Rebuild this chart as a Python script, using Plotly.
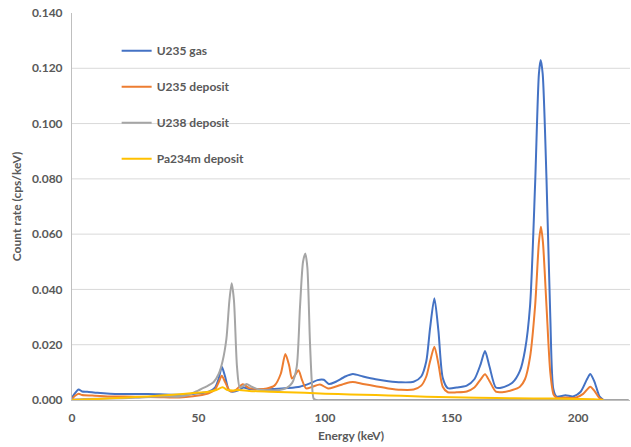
import plotly.graph_objects as go

# Gamma spectra: energy (keV) and count rate (cps/keV) for each source
u235_gas_e = [0, 1.2, 2.6, 4, 6, 10, 15, 20, 30, 40, 46, 50, 54, 56.5, 58, 59.2, 60.5, 62, 63.5,
              66, 67.8, 70, 75, 80, 85, 90, 94, 97, 99.5, 101.5, 104, 108, 111, 115, 120, 125,
              130, 135, 138, 140, 141.5, 143.2, 144.8, 146.5, 148.5, 152, 156, 159, 161.5, 163.2,
              165, 167.5, 170, 174, 177, 179, 181, 183, 184.5, 185.2, 186, 187.5, 189, 190.2,
              191.5, 195, 198, 201, 203.5, 204.8, 206.5, 208.5, 210]
u235_gas = [0.0008, 0.0025, 0.0038, 0.0031, 0.0030, 0.0026, 0.0023, 0.0022, 0.0022, 0.0019,
            0.0021, 0.0024, 0.0030, 0.0045, 0.0078, 0.0120, 0.0085, 0.0035, 0.0030, 0.0036,
            0.0045, 0.0040, 0.0038, 0.0040, 0.0043, 0.0048, 0.0060, 0.0072, 0.0073, 0.0058,
            0.0065, 0.0085, 0.0094, 0.0085, 0.0075, 0.0068, 0.0064, 0.0066, 0.0085, 0.0140,
            0.0260, 0.0368, 0.0250, 0.0080, 0.0043, 0.0045, 0.0052, 0.0075, 0.0130, 0.0177,
            0.0120, 0.0045, 0.0045, 0.0062, 0.0105, 0.0180, 0.0340, 0.0780, 0.1180, 0.1230,
            0.1180, 0.0800, 0.0300, 0.0040, 0.0012, 0.0017, 0.0013, 0.0030, 0.0075, 0.0094,
            0.0065, 0.0012, 0.0]

u235_dep_e = [0, 1.2, 2.6, 4, 8, 15, 25, 35, 40, 45, 50, 54, 56.5, 58, 59.2, 60.5, 62.5, 64.5,
              67.5, 70, 73, 77, 80, 82.5, 84.3, 85.8, 86.9, 88, 89.5, 90.8, 92.5, 95, 98, 101.2,
              104, 108, 111, 115, 120, 125, 130, 135, 138, 140, 141.5, 143.2, 144.8, 146.5,
              148.5, 152, 156, 159, 161.5, 163.2, 165, 167.5, 170, 174, 177, 179, 181, 183,
              184.5, 185.3, 186.1, 187.5, 189, 190.3, 191.5, 195, 199, 202, 204.8, 206.5,
              208.5, 210]
u235_dep = [0.0003, 0.0015, 0.0023, 0.0018, 0.0016, 0.0013, 0.0012, 0.0010, 0.0009, 0.0011,
            0.0016, 0.0024, 0.0038, 0.0065, 0.0088, 0.0065, 0.0032, 0.0035, 0.0057, 0.0043,
            0.0040, 0.0042, 0.0052, 0.0095, 0.0166, 0.0125, 0.0078, 0.0088, 0.0108, 0.0075,
            0.0042, 0.0048, 0.0056, 0.0042, 0.0048, 0.0060, 0.0065, 0.0058, 0.0050, 0.0042,
            0.0037, 0.0038, 0.0052, 0.0085, 0.0140, 0.0193, 0.0130, 0.0048, 0.0028, 0.0028,
            0.0031, 0.0045, 0.0075, 0.0093, 0.0068, 0.0030, 0.0028, 0.0036, 0.0048, 0.0075,
            0.0155, 0.0340, 0.0570, 0.0627, 0.0570, 0.0340, 0.0100, 0.0020, 0.0008, 0.0009,
            0.0008, 0.0022, 0.0048, 0.0032, 0.0006, 0.0]

u238_dep_e = [0, 5, 15, 25, 35, 42, 46, 50, 53, 56, 58, 59.5, 61, 62.2, 63.1, 64, 65.2, 66.3,
              67.5, 69, 71, 74, 78, 82, 85, 87, 88.8, 90.1, 91.3, 92.2, 93, 94, 94.8, 95.5,
              96.5, 100, 150, 200, 220]
u238_dep = [0.0002, 0.0004, 0.0005, 0.0008, 0.0013, 0.0012, 0.0018, 0.0035, 0.0048, 0.0065,
            0.0095, 0.0140, 0.0220, 0.0360, 0.0422, 0.0360, 0.0120, 0.0045, 0.0050, 0.0058,
            0.0048, 0.0038, 0.0035, 0.0036, 0.0045, 0.0062, 0.0120, 0.0337, 0.0500, 0.0530,
            0.0480, 0.0217, 0.0060, 0.0005, 0.0, 0.0, 0.0, 0.0, 0.0]

pa234m_dep_e = [0, 10, 20, 30, 40, 48, 54, 57, 59.5, 61.5, 63.5, 66, 70, 78, 85, 92, 100, 110,
                120, 130, 140, 150, 160, 175, 190, 200, 206, 210]
pa234m_dep = [0.0, 0.0004, 0.0008, 0.0013, 0.0019, 0.0025, 0.0030, 0.0036, 0.0046, 0.0036,
              0.0034, 0.0036, 0.0033, 0.0030, 0.0028, 0.0026, 0.0023, 0.0020, 0.0018, 0.0015,
              0.0012, 0.0010, 0.0008, 0.0006, 0.0005, 0.0004, 0.0003, 0.0]

series_names = ["U235 gas", "U235 deposit", "U238 deposit", "Pa234m deposit"]
series_colors = ["#4472C4", "#ED7D31", "#A5A5A5", "#FFC000"]

y_ticks = [0.0, 0.02, 0.04, 0.06, 0.08, 0.10, 0.12, 0.14]
x_ticks = [0, 50, 100, 150, 200]

FONT = "Lato"
TEXT = "#595959"

fig = go.Figure()
for i, (xs, ys) in enumerate([(u235_gas_e, u235_gas), (u235_dep_e, u235_dep),
                              (u238_dep_e, u238_dep), (pa234m_dep_e, pa234m_dep)]):
    fig.add_trace(go.Scatter(
        x=xs, y=ys, mode="lines", name=series_names[i],
        legendgroup=f"g{i}",
        line=dict(color=series_colors[i], width=2, shape="spline", smoothing=0.7),
    ))

# horizontal gridlines (no line at the top edge)
shapes = []
for v in y_ticks[1:-1]:
    shapes.append(dict(type="line", xref="paper", yref="y", x0=0, x1=1, y0=v, y1=v,
                       line=dict(color="#D9D9D9", width=1), layer="below"))

fig.update_layout(
    width=631, height=447,
    margin=dict(l=72, r=1, t=13, b=47),
    paper_bgcolor="white", plot_bgcolor="white",
    font=dict(family=FONT, size=12, color=TEXT, weight="bold"),
    shapes=shapes,
    showlegend=True,
    legend=dict(x=0.08, y=0.94, xanchor="left", yanchor="top",
                bgcolor="rgba(0,0,0,0)", tracegroupgap=17,
                font=dict(family=FONT, size=12, color=TEXT, weight="bold")),
    xaxis=dict(range=[0, 220.5], tickvals=x_ticks, ticktext=[str(t) for t in x_ticks],
               showgrid=False, zeroline=False, showline=True, linecolor="#BFBFBF", linewidth=1,
               ticks="", ticklabelstandoff=7,
               tickfont=dict(family=FONT, size=12, color=TEXT, weight="bold"),
               title=dict(text="Energy (keV)", standoff=7,
                          font=dict(family=FONT, size=12, color=TEXT, weight="bold"))),
    yaxis=dict(range=[0, 0.14], tickvals=y_ticks, ticktext=[f"{t:.3f}" for t in y_ticks],
               showgrid=False, zeroline=False, showline=True, linecolor="#BFBFBF", linewidth=1,
               ticks="", ticklabelstandoff=6,
               tickfont=dict(family=FONT, size=12, color=TEXT, weight="bold"),
               title=dict(text="Count rate (cps/keV)", standoff=7,
                          font=dict(family=FONT, size=12, color=TEXT, weight="bold"))),
)

fig.write_html("out.html")
